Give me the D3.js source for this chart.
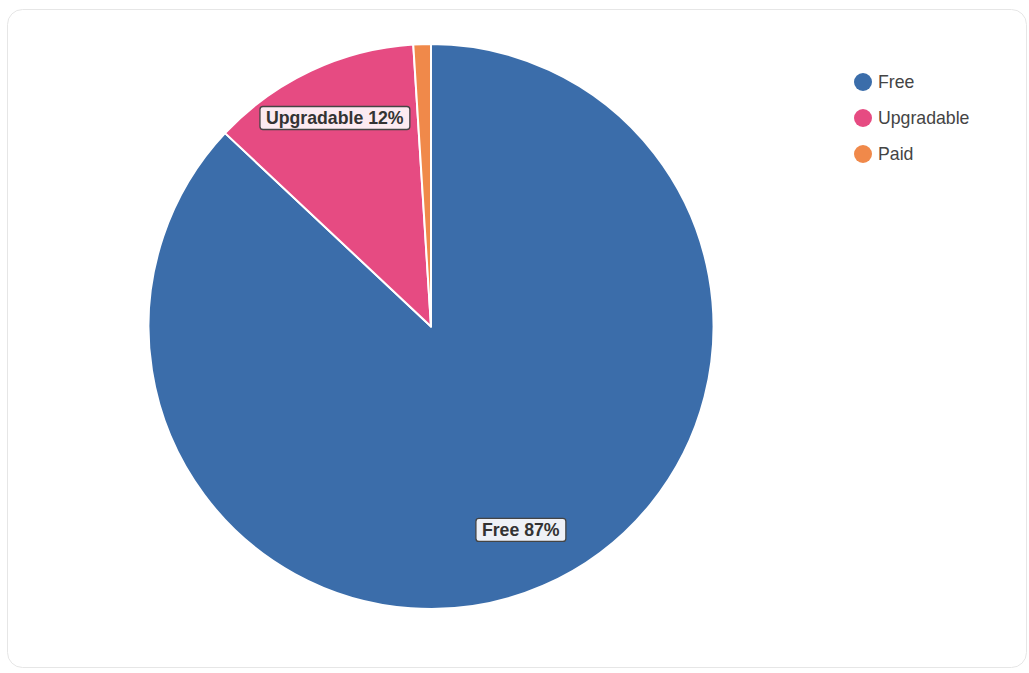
<!DOCTYPE html>
<html><head><meta charset="utf-8">
<script src="https://cdn.jsdelivr.net/npm/d3@7"></script>
<style>
html,body{margin:0;padding:0;background:#fff;font-family:"Liberation Sans",Arial,Helvetica,sans-serif;}
</style></head>
<body>
<svg id="chart" width="1029" height="673"></svg>
<script>
const categories = ["Free", "Upgradable", "Paid"];
const values = [87, 12, 1];
const colors = ["#3b6daa", "#e64b82", "#f0894a"];
const labelFills = ["#eef1f7", "#fceaf1", "#fdf0e8"];

const svg = d3.select("#chart");
svg.append("rect").attr("x",7.5).attr("y",9.5).attr("width",1019).attr("height",658)
  .attr("rx",15).attr("fill","#fff").attr("stroke","#e6e6e6");

const cx = 431, cy = 326.5, R = 282.5;
const data = categories.map((c,i)=>({name:c, value:values[i], color:colors[i], lf:labelFills[i]}));
const total = d3.sum(values);
const pie = d3.pie().sort(null).value(d=>d.value);
const arcs = pie(data);
const arc = d3.arc().innerRadius(0).outerRadius(R);
const labelArc = d3.arc().innerRadius(R*0.8).outerRadius(R*0.8);

const g = svg.append("g").attr("transform",`translate(${cx},${cy})`);
g.selectAll("path").data(arcs).join("path")
  .attr("d",arc).attr("fill",d=>d.data.color)
  .attr("stroke","#fff").attr("stroke-width",2).attr("stroke-linejoin","round");

arcs.forEach(a=>{
  const pct = Math.round(a.data.value/total*100);
  if (pct < 5) return;
  const [x,y] = labelArc.centroid(a);
  const lg = g.append("g").attr("transform",`translate(${x},${y-4})`);
  const t = lg.append("text").attr("text-anchor","middle").attr("dy","0.35em")
    .attr("font-size",17.7).attr("font-weight","bold").attr("fill","#333")
    .text(`${a.data.name} ${pct}%`);
  const bb = t.node().getBBox();
  lg.insert("rect","text").attr("x",bb.x-6).attr("y",-11.5).attr("width",bb.width+12).attr("height",23)
    .attr("rx",3).attr("fill",a.data.lf).attr("stroke","#444").attr("stroke-width",1.3);
});

const leg = svg.append("g").attr("transform","translate(863,82)");
data.forEach((d,i)=>{
  const row = leg.append("g").attr("transform",`translate(0,${i*36})`);
  row.append("circle").attr("r",9).attr("fill",d.color);
  row.append("text").attr("x",15).attr("dy","0.35em").attr("font-size",17.7).attr("fill","#444").text(d.name);
});
</script>
</body></html>
